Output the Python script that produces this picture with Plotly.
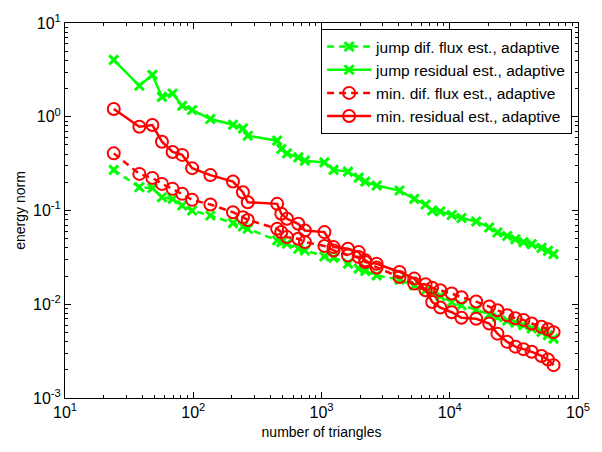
import plotly.graph_objects as go

# number of triangles (shared refinement steps)
n_tri = [24, 38, 48, 57, 69, 82, 98, 136, 204, 244, 266, 451, 486, 538, 659, 742,
         1054, 1241, 1608, 1950, 2194, 2691, 4058, 5284, 6478, 7288, 8433, 10358,
         12345, 16075, 20305, 23537, 28063, 32475, 37564, 43541, 51929, 58302, 64454]

jump_flux = [0.271, 0.177, 0.1736, 0.1385, 0.1332, 0.113, 0.100, 0.0885, 0.0733, 0.0676,
             0.0639, 0.048, 0.046, 0.0442, 0.0391, 0.0375, 0.0324, 0.0314, 0.0271, 0.024,
             0.0226, 0.0203, 0.0183, 0.0159, 0.0141, 0.0131, 0.0122, 0.01058, 0.00976,
             0.00874, 0.00777, 0.00727, 0.00668, 0.00636, 0.00598, 0.00551, 0.00507,
             0.00468, 0.0043]

jump_resid = [4.04, 2.14, 2.80, 1.63, 1.77, 1.31, 1.18, 0.945, 0.822, 0.750, 0.628, 0.556,
              0.453, 0.407, 0.369, 0.340, 0.326, 0.271, 0.260, 0.2245, 0.2035, 0.1845,
              0.1632, 0.1332, 0.1158, 0.100, 0.0976, 0.0896, 0.0832, 0.0764, 0.0659,
              0.0583, 0.0535, 0.0494, 0.046, 0.0438, 0.0399, 0.0371, 0.0343]

min_flux = [0.407, 0.2457, 0.2228, 0.1923, 0.1702, 0.1505, 0.1299, 0.1158, 0.0959, 0.0849,
            0.0793, 0.0639, 0.0588, 0.052, 0.050, 0.046, 0.0419, 0.0375, 0.0332, 0.0319,
            0.0294, 0.0247, 0.01952, 0.01661, 0.0163, 0.01498, 0.0141, 0.013, 0.01187,
            0.01068, 0.00945, 0.00863, 0.00764, 0.0071, 0.00681, 0.00623, 0.00576,
            0.00542, 0.00504]

min_resid = [1.208, 0.783, 0.816, 0.542, 0.421, 0.392, 0.283, 0.2386, 0.2035, 0.1566,
             0.1226, 0.1178, 0.0922, 0.0816, 0.0722, 0.0613, 0.0588, 0.0407, 0.0391, 0.036,
             0.0282, 0.027, 0.0221, 0.01877, 0.0141, 0.01058, 0.00922, 0.00822, 0.00718,
             0.00701, 0.00623, 0.00486, 0.00397, 0.00353, 0.00332, 0.00311, 0.00281,
             0.00257, 0.00224]

names = ["jump dif. flux est., adaptive", "jump residual est., adaptive",
         "min. dif. flux est., adaptive", "min. residual est., adaptive"]

x_ticks = [10, 100, 1000, 10000, 100000]
x_ticktext = ["10<sup>1</sup>", "10<sup>2</sup>", "10<sup>3</sup>", "10<sup>4</sup>", "10<sup>5</sup>"]
y_ticks = [1e-3, 1e-2, 1e-1, 1, 10]
y_ticktext = ["10<sup>-3</sup>", "10<sup>-2</sup>", "10<sup>-1</sup>", "10<sup>0</sup>", "10<sup>1</sup>"]

GREEN = "#00ff00"
RED = "#ff0000"

fig = go.Figure()
green_marker = dict(symbol="x-thin", size=9, line=dict(width=3, color=GREEN), color=GREEN)
red_marker = dict(symbol="circle-open", size=12, line=dict(width=2, color=RED), color=RED)

fig.add_trace(go.Scatter(x=n_tri, y=jump_flux, name=names[0], mode="lines+markers",
                         line=dict(color=GREEN, width=2.5, dash="7px,5px"), marker=green_marker))
fig.add_trace(go.Scatter(x=n_tri, y=jump_resid, name=names[1], mode="lines+markers",
                         line=dict(color=GREEN, width=2.5), marker=green_marker))
fig.add_trace(go.Scatter(x=n_tri, y=min_flux, name=names[2], mode="lines+markers",
                         line=dict(color=RED, width=2.5, dash="7px,5px"), marker=red_marker))
fig.add_trace(go.Scatter(x=n_tri, y=min_resid, name=names[3], mode="lines+markers",
                         line=dict(color=RED, width=2.5), marker=red_marker))

minor_x = [k * 10 ** d for d in range(1, 5) for k in range(2, 10)]
minor_y = [k * 10.0 ** d for d in range(-3, 1) for k in range(2, 10)]

axis_common = dict(type="log", showgrid=False, zeroline=False, showline=True,
                   linecolor="black", linewidth=1, mirror="allticks", ticks="inside",
                   ticklen=6, tickcolor="black", tickfont=dict(size=16, color="black",
                   family="Liberation Sans, Arial, sans-serif"))

fig.update_xaxes(range=[1, 5], tickmode="array", tickvals=x_ticks, ticktext=x_ticktext,
                 minor=dict(ticks="inside", ticklen=3, tickcolor="black",
                            tickmode="array", tickvals=minor_x, showgrid=False),
                 title=dict(text="number of triangles", standoff=6,
                            font=dict(size=14, color="black")),
                 **axis_common)
fig.update_yaxes(range=[-3, 1], tickmode="array", tickvals=y_ticks, ticktext=y_ticktext,
                 minor=dict(ticks="inside", ticklen=3, tickcolor="black",
                            tickmode="array", tickvals=minor_y, showgrid=False),
                 title=dict(text="energy norm", standoff=4,
                            font=dict(size=14, color="black")),
                 **axis_common)

fig.update_layout(
    width=602, height=452,
    margin=dict(l=65, r=13, t=22, b=54),
    paper_bgcolor="white", plot_bgcolor="white",
    font=dict(family="Liberation Sans, Arial, sans-serif", color="black"),
    showlegend=True,
    legend=dict(x=0.9885, y=0.984, xanchor="right", yanchor="top",
                bordercolor="black", borderwidth=1, bgcolor="white",
                font=dict(size=15.5, color="black"), tracegroupgap=0,
                itemwidth=44),
)

fig.write_html("out.html")
